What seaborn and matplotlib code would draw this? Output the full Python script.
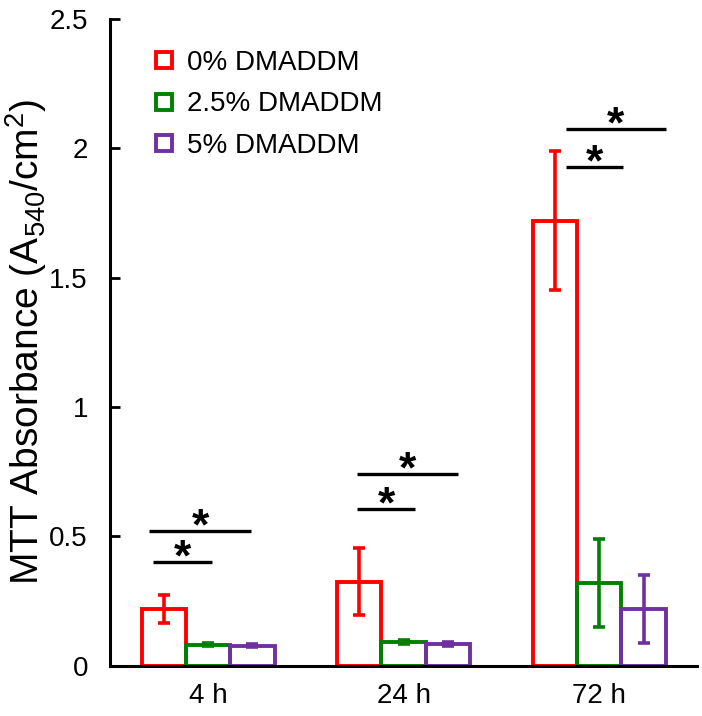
import numpy as np
import pandas as pd
import matplotlib
matplotlib.use("Agg")
import matplotlib.pyplot as plt
from matplotlib.lines import Line2D
import seaborn as sns

# --- Data ---
times = ["4 h", "24 h", "72 h"]
groups = ["0% DMADDM", "2.5% DMADDM", "5% DMADDM"]
mean_0 = [0.22, 0.325, 1.72]
mean_25 = [0.081, 0.092, 0.32]
mean_5 = [0.077, 0.085, 0.22]
sd_0 = [0.055, 0.13, 0.27]
sd_25 = [0.006, 0.008, 0.17]
sd_5 = [0.006, 0.007, 0.13]
colors = ["#FF0000", "#008000", "#7030A0"]

# significance bars: group index, x start / end relative to group center, y level
sig_group = [0, 0, 1, 1, 2, 2]
sig_x0 = [-0.28, -0.30, -0.24, -0.24, -0.17, -0.17]
sig_x1 = [0.02, 0.22, 0.06, 0.28, 0.12, 0.34]
sig_y = [0.40, 0.52, 0.606, 0.74, 1.927, 2.073]

df = pd.DataFrame({
    "time": times * 3,
    "group": [g for g in groups for _ in times],
    "value": mean_0 + mean_25 + mean_5,
    "sd": sd_0 + sd_25 + sd_5,
})

sns.set_style("ticks")
plt.rcParams["font.family"] = ["Liberation Sans", "DejaVu Sans"]
plt.rcParams["mathtext.default"] = "regular"
plt.rcParams["text.color"] = "black"
plt.rcParams["axes.labelcolor"] = "black"
plt.rcParams["xtick.color"] = "black"
plt.rcParams["ytick.color"] = "black"
plt.rcParams["axes.edgecolor"] = "black"

fig = plt.figure(figsize=(7.02, 7.16), dpi=100)
ax = fig.add_axes([0.157, 0.070, 0.836, 0.904])

sns.barplot(data=df, x="time", y="value", hue="group", hue_order=groups,
            order=times, palette=colors, fill=False, linewidth=2.8,
            width=0.68, errorbar=None, legend=False, ax=ax)

# error bars at bar centers
for p, (_, row) in zip(ax.patches, df.iterrows()):
    xc = p.get_x() + p.get_width() / 2
    ax.errorbar(xc, row["value"], yerr=row["sd"], fmt="none",
                ecolor=p.get_edgecolor(), elinewidth=2.6, capsize=4.5, capthick=2.6)

# significance markers
for g, x0, x1, y in zip(sig_group, sig_x0, sig_x1, sig_y):
    ax.plot([g + x0, g + x1], [y, y], color="black", lw=2.4, solid_capstyle="butt")
    ax.annotate("*", xy=(g + (x0 + x1) / 2, y), xytext=(0, -6),
                textcoords="offset points", ha="center", va="baseline",
                fontsize=32, fontweight="bold", color="black")

ax.set_xlim(-0.5, 2.5)
ax.set_ylim(0, 2.5)
ax.set_yticks([0, 0.5, 1, 1.5, 2, 2.5])
ax.set_yticklabels(["0", "0.5", "1", "1.5", "2", "2.5"])
ax.set_xlabel("")
ax.set_ylabel("MTT Absorbance (A$_{540}$/cm$^2$)", fontsize=28)
ax.yaxis.set_label_coords(-0.105, 0.5)
ax.tick_params(axis="y", direction="in", length=7, width=2, labelsize=20, pad=16)
ax.tick_params(axis="x", length=0, labelsize=20, pad=12)
for s in ["top", "right"]:
    ax.spines[s].set_visible(False)
for s in ["left", "bottom"]:
    ax.spines[s].set_linewidth(2.2)

handles = [Line2D([], [], marker="s", linestyle="none", markersize=11,
                  markerfacecolor="white", markeredgecolor=c, markeredgewidth=2.8)
           for c in colors]
ax.legend(handles, groups, loc="upper left", bbox_to_anchor=(0.025, 0.99),
          frameon=False, fontsize=20, handlelength=1.0, handletextpad=0.35,
          labelspacing=0.55)

fig.savefig("out.png", dpi=100)
